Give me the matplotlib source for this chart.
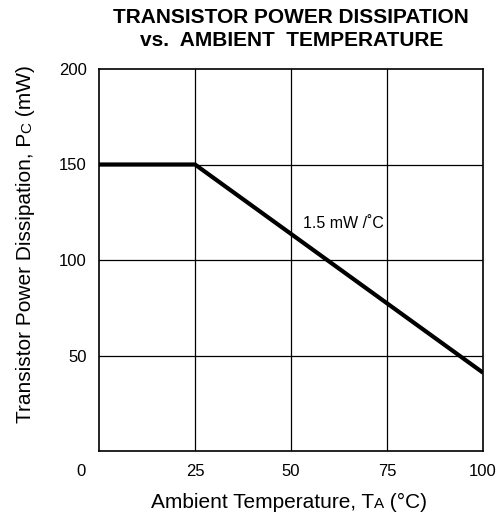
import matplotlib
matplotlib.use("Agg")
import matplotlib.pyplot as plt

plt.rcParams['font.family'] = ['Liberation Sans', 'DejaVu Sans']

# Data
temps = [0, 25, 100]
power = [150, 150, 41]
x_ticks = [25, 50, 75, 100]
y_ticks = [50, 100, 150, 200]
title = "TRANSISTOR POWER DISSIPATION\nvs.  AMBIENT  TEMPERATURE"
slope_label = "1.5 mW /˚C"

fig = plt.figure(figsize=(5.04, 5.16), dpi=100)
ax = fig.add_axes([99/504, 1-451/516, (483-99)/504, (451-69)/516])
ax.set_xlim(0, 100)
ax.set_ylim(0, 200)

for x in x_ticks[:-1]:
    ax.axvline(x, color='black', lw=0.9, zorder=1)
for y in y_ticks[:-1]:
    ax.axhline(y, color='black', lw=0.9, zorder=1)

ax.plot(temps, power, color='black', lw=3.0, solid_capstyle='butt', solid_joinstyle='miter', zorder=3)

for s in ax.spines.values():
    s.set_linewidth(1.2)

ax.set_xticks(x_ticks)
ax.set_yticks(y_ticks)
ax.tick_params(length=0, labelsize=12, pad=9)
ax.tick_params(axis='y', pad=9)
ax.annotate("0", xy=(0, 0), xytext=(-13, -9), textcoords='offset points',
            ha='center', va='top', fontsize=12)

ax.text(53, 119, slope_label, fontsize=11.5, ha='left', va='center')

fig.text(0.578, 0.985, title, ha='center', va='top', fontsize=15,
         fontweight='bold', linespacing=1.3)

# Axis labels with smaller subscript-like letters
fig.canvas.draw()
r = fig.canvas.get_renderer()

def draw_pieces(pieces, x0, y0, rotation=0, center=True):
    texts = []
    for s, size in pieces:
        t = fig.text(0, 0, s, fontsize=size, rotation=rotation,
                     rotation_mode='anchor', ha='left', va='baseline',
                     transform=None)
        texts.append(t)
    lens = []
    for t in texts:
        bb = t.get_window_extent(r)
        lens.append(bb.width if rotation == 0 else bb.height)
    total = sum(lens)
    pos = (x0 if rotation == 0 else y0) - (total/2 if center else 0)
    for t, L in zip(texts, lens):
        if rotation == 0:
            t.set_position((pos, y0))
        else:
            t.set_position((x0, pos))
        pos += L

H = 516
draw_pieces([("Ambient Temperature, T", 15), ("A", 11), (" (°C)", 15)],
            289, H - 508, rotation=0)
draw_pieces([("Transistor Power Dissipation, P", 15), ("C", 11), (" (mW)", 15)],
            31, H - 244, rotation=90)

fig.savefig("out.png", dpi=100)
